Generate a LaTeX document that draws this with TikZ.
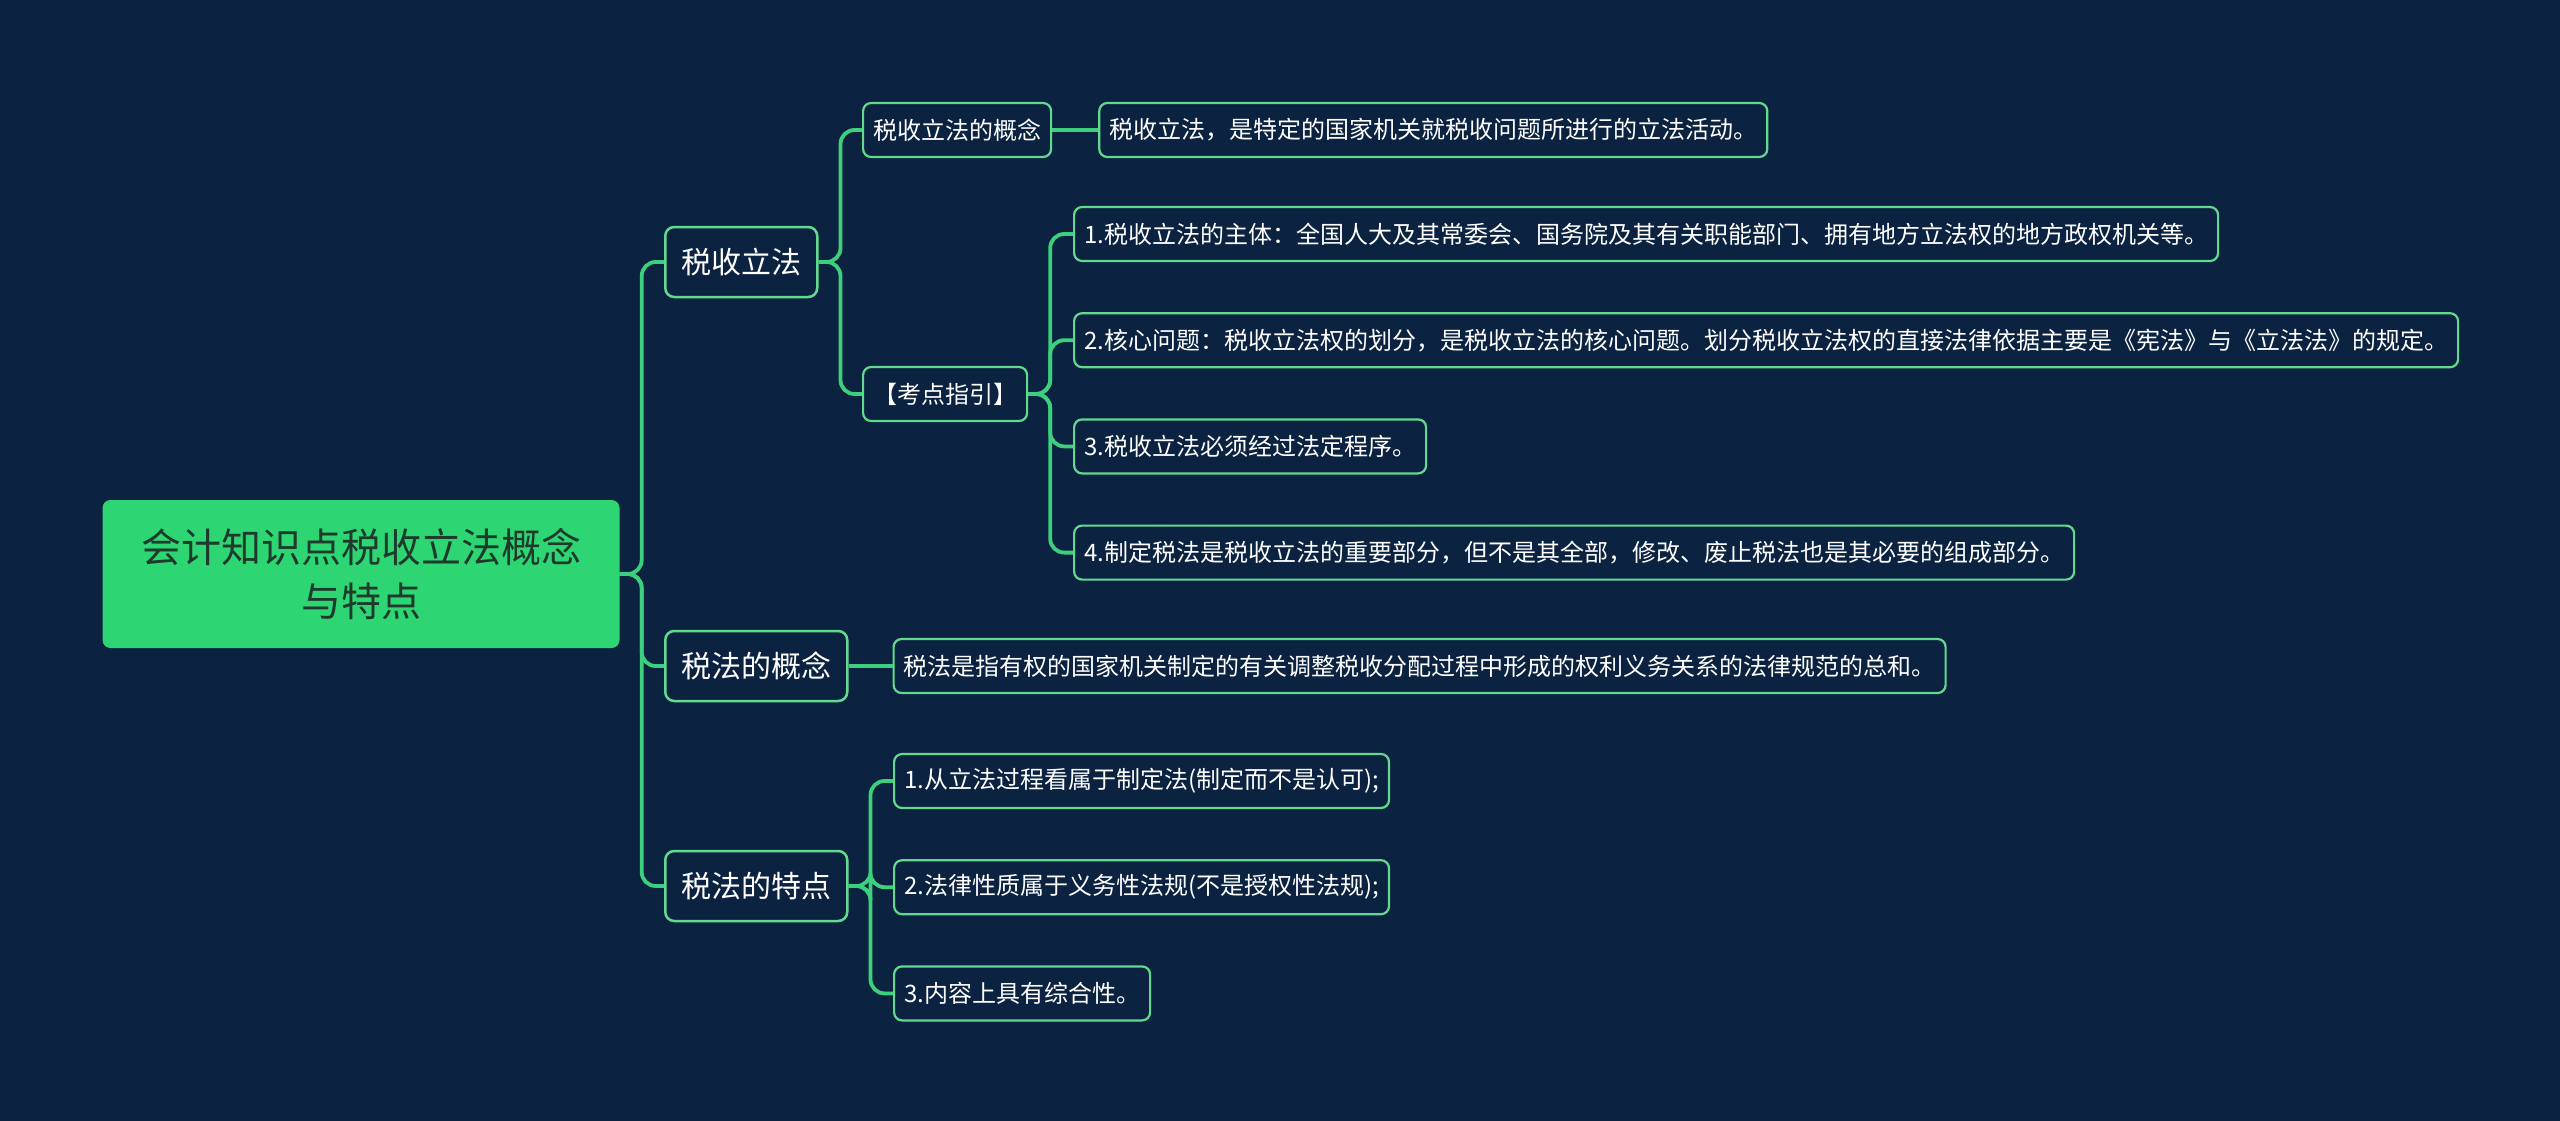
\documentclass[tikz,border=0pt]{standalone}
\usepackage{fontspec}
\setmainfont{Noto Sans CJK SC}
\usepackage{xcolor}
\definecolor{night}{HTML}{0B2340}
\definecolor{mint}{HTML}{2ED573}
\definecolor{twig}{HTML}{3CCF7C}
\definecolor{rim}{HTML}{62D98F}
\definecolor{ink}{HTML}{1D3A2C}
\usepackage{tikz}
\usetikzlibrary{positioning}

\begin{document}
\begin{tikzpicture}[
  x=1pt, y=-1pt,
  node distance=50pt and 44pt,
  rootbox/.style={fill=mint, rounded corners=8pt, text=ink, align=center,
                  minimum width=517pt, minimum height=148pt,
                  font=\fontsize{40}{54}\selectfont},
  topic/.style={draw=rim, line width=2.5pt, fill=night, rounded corners=9pt,
                text=white, minimum height=70pt, inner xsep=16pt,
                font=\fontsize{30}{36}\selectfont},
  leaf/.style={draw=rim, line width=2.2pt, fill=night, rounded corners=8pt,
               text=white, minimum height=54pt, inner xsep=10pt,
               font=\fontsize{24}{29}\selectfont},
  edge/.style={draw=twig, line width=3.8pt, rounded corners=14pt}
]
\useasboundingbox[fill=night] (0,0) rectangle (2560,1121);

% centre and main branches
\node[rootbox] (root) at (361,574) {会计知识点税收立法概念\\与特点};
\node[topic, anchor=west] (lifa) at (664,262) {税收立法};
\node[topic, anchor=west] (gainian) at (664,666) {税法的概念};
\node[topic, anchor=west] (tedian) at (664,886) {税法的特点};

% 税收立法
\node[leaf, anchor=west] (lfgn) at (862,130) {税收立法的概念};
\node[leaf, right=46pt of lfgn] (lfgnx) {税收立法，是特定的国家机关就税收问题所进行的立法活动。};
\node[leaf, anchor=west] (kaodian) at (862,394) {【考点指引】};
\node[leaf, anchor=west] (kd1) at (1073,234) {1.税收立法的主体：全国人大及其常委会、国务院及其有关职能部门、拥有地方立法权的地方政权机关等。};
\node[leaf, below=50pt of kd1.south west, anchor=north west] (kd2) {2.核心问题：税收立法权的划分，是税收立法的核心问题。划分税收立法权的直接法律依据主要是《宪法》与《立法法》的规定。};
\node[leaf, below=50pt of kd2.south west, anchor=north west] (kd3) {3.税收立法必须经过法定程序。};
\node[leaf, below=50pt of kd3.south west, anchor=north west] (kd4) {4.制定税法是税收立法的重要部分，但不是其全部，修改、废止税法也是其必要的组成部分。};

% 税法的概念
\node[leaf, right=44pt of gainian] (gnx) {税法是指有权的国家机关制定的有关调整税收分配过程中形成的权利义务关系的法律规范的总和。};

% 税法的特点
\node[leaf, anchor=west] (td1) at (893,781) {1.从立法过程看属于制定法(制定而不是认可);};
\node[leaf, below=50pt of td1.south west, anchor=north west] (td2) {2.法律性质属于义务性法规(不是授权性法规);};
\node[leaf, below=50pt of td2.south west, anchor=north west] (td3) {3.内容上具有综合性。};

% connectors
\foreach \kid in {lifa,gainian,tedian}
  \draw[edge] (root.east) -- ++(22,0) |- (\kid.west);
\foreach \kid in {lfgn,kaodian}
  \draw[edge] (lifa.east) -- ++(22,0) |- (\kid.west);
\draw[edge] (lfgn.east) -- (lfgnx.west);
\foreach \kid in {kd1,kd2,kd3,kd4}
  \draw[edge] (kaodian.east) -- ++(22,0) |- (\kid.west);
\draw[edge] (gainian.east) -- (gnx.west);
\foreach \kid in {td1,td2,td3}
  \draw[edge] (tedian.east) -- ++(22,0) |- (\kid.west);
\end{tikzpicture}
\end{document}
